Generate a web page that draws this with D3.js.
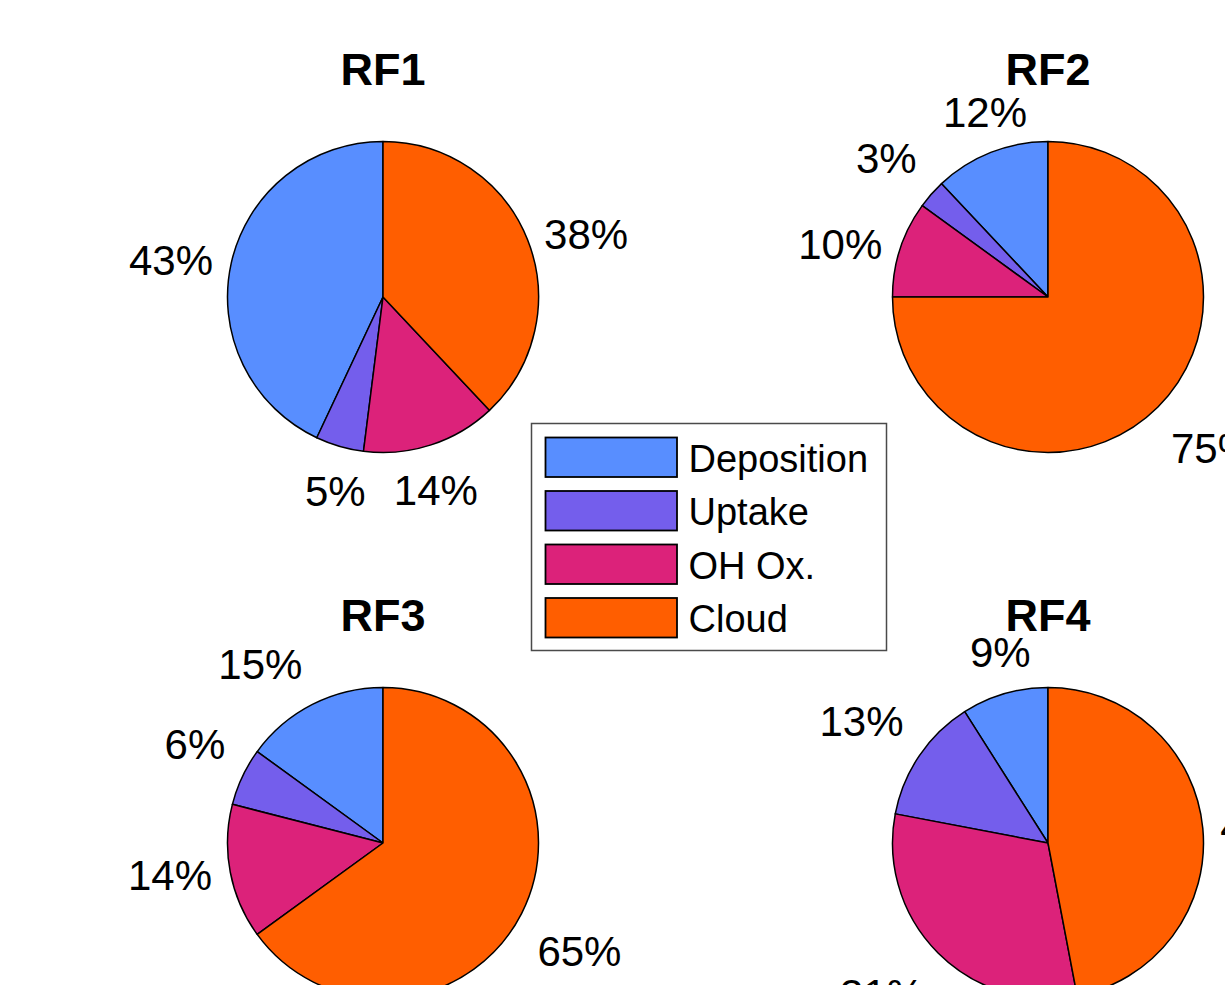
<!DOCTYPE html>
<html>
<head>
<meta charset="utf-8">
<script src="https://cdn.jsdelivr.net/npm/d3@7"></script>
<style>
  html, body { margin: 0; padding: 0; background: #ffffff; }
  svg { display: block; }
</style>
</head>
<body>
<svg id="chart" width="1225" height="985"></svg>
<script>
// Loss pathways, share of total (%) for each research flight
const categories = ["Deposition", "Uptake", "OH Ox.", "Cloud"];
const flights = ["RF1", "RF2", "RF3", "RF4"];
const rf1 = [43, 5, 14, 38];
const rf2 = [12, 3, 10, 75];
const rf3 = [15, 6, 14, 65];
const rf4 = [9, 13, 31, 47];
const colors = ["#588eff", "#745eec", "#dc227a", "#ff5e00"];

const series = [rf1, rf2, rf3, rf4];

const svg = d3.select("#chart");
const W = 1225, H = 985;
svg.append("rect").attr("width", W).attr("height", H).attr("fill", "#ffffff");

const FONT = "'Liberation Sans', Arial, Helvetica, sans-serif";
const radius = 155.5;
const labelR = radius * 1.1;
const labelSize = 42;

// 2 x 2 grid of pie centres
const colX = d3.scaleOrdinal().domain([0, 1]).range([383, 1048]);
const rowY = d3.scaleOrdinal().domain([0, 1]).range([297, 843]);

const color = d3.scaleOrdinal().domain(categories).range(colors);

// slices run counter-clockwise from 12 o'clock, in category order
const pie = d3.pie().sort(null).startAngle(0).endAngle(-2 * Math.PI);
const arc = d3.arc().innerRadius(0).outerRadius(radius);

series.forEach((vals, i) => {
  const cx = colX(i % 2), cy = rowY(Math.floor(i / 2));
  const g = svg.append("g").attr("transform", `translate(${cx},${cy})`);
  const data = categories.map((c, k) => ({ cat: c, value: vals[k] }));
  const arcs = pie.value(d => d.value)(data);

  g.selectAll("path.slice")
    .data(arcs)
    .join("path")
    .attr("class", "slice")
    .attr("d", arc)
    .attr("fill", d => color(d.data.cat))
    .attr("stroke", "#000")
    .attr("stroke-width", 1.5)
    .attr("stroke-linejoin", "round");

  // percentage labels just outside the rim, aligned away from the pie
  const thr = Math.sin(Math.PI / 8);
  g.selectAll("text.pct")
    .data(arcs)
    .join("text")
    .attr("class", "pct")
    .each(function (d) {
      const m = (d.startAngle + d.endAngle) / 2;
      const ux = Math.sin(m), uy = -Math.cos(m);
      let x = labelR * ux, y = labelR * uy;
      let anchor;
      if (Math.abs(ux) < thr) anchor = "middle";
      else if (ux > 0) { anchor = "start"; x += 2; }
      else { anchor = "end"; x -= 3; }
      if (Math.abs(uy) < thr) y += labelSize * 0.357;
      else if (uy < 0) y -= labelSize * 0.27;
      else y += labelSize * 1.07;
      d3.select(this)
        .attr("x", x).attr("y", y)
        .attr("text-anchor", anchor);
    })
    .attr("font-family", FONT)
    .attr("font-size", labelSize)
    .attr("fill", "#000")
    .text(d => Math.round(d.data.value) + "%");

  g.append("text")
    .attr("x", 0)
    .attr("y", -212.5)
    .attr("text-anchor", "middle")
    .attr("font-family", FONT)
    .attr("font-weight", "bold")
    .attr("font-size", 45)
    .attr("fill", "#000")
    .text(flights[i]);
});

// legend
const leg = svg.append("g").attr("transform", "translate(531.5,423.5)");
leg.append("rect")
  .attr("width", 355).attr("height", 227)
  .attr("fill", "#fff")
  .attr("stroke", "#4a4a4a")
  .attr("stroke-width", 1.5);

const rowPitch = 53.5;
const items = leg.selectAll("g.item")
  .data(categories)
  .join("g")
  .attr("class", "item")
  .attr("transform", (d, k) => `translate(14,${14 + k * rowPitch})`);

items.append("rect")
  .attr("width", 131.5).attr("height", 39.5)
  .attr("fill", d => color(d))
  .attr("stroke", "#000")
  .attr("stroke-width", 1.8);

items.append("text")
  .attr("x", 143)
  .attr("y", 19.75 + 14.5)
  .attr("font-family", FONT)
  .attr("font-size", 38)
  .attr("fill", "#000")
  .text(d => d);
</script>
</body>
</html>
